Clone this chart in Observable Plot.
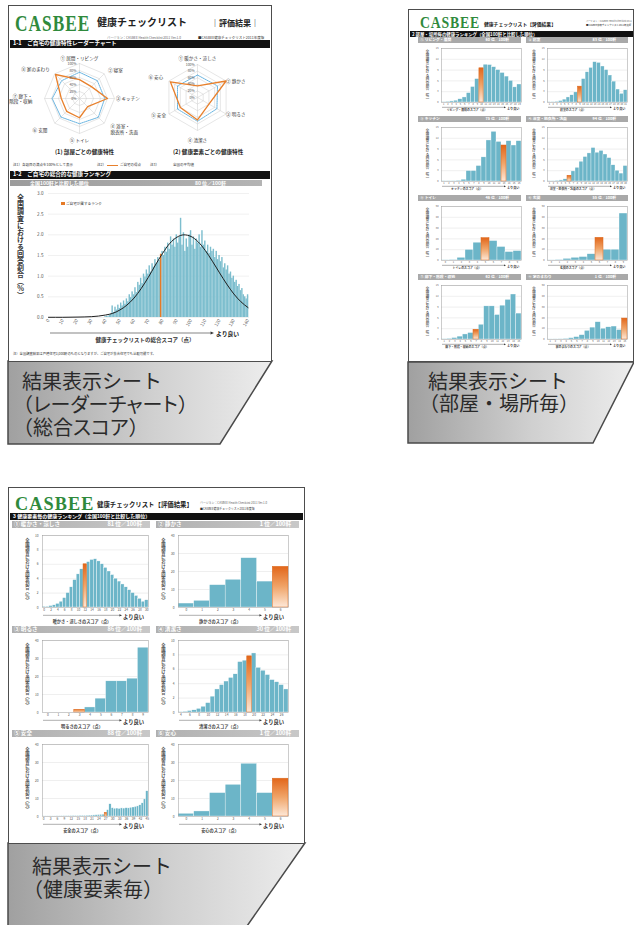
<!DOCTYPE html>
<html><head><meta charset="utf-8">
<script src="https://cdn.jsdelivr.net/npm/d3@7"></script>
<script src="https://cdn.jsdelivr.net/npm/@observablehq/plot@0.6"></script>
<style>
html,body{margin:0;padding:0;background:#fff;}
body{width:634px;height:925px;position:relative;overflow:hidden;font-family:"Noto Sans CJK JP","Noto Sans",sans-serif;color:#333;}
.t{position:absolute;white-space:nowrap;line-height:1;}
.v{position:absolute;white-space:nowrap;line-height:1;writing-mode:vertical-rl;text-orientation:upright;}
.b{position:absolute;}
.sheet{position:absolute;background:#fff;border:1.5px solid #4d4d4d;box-sizing:border-box;}
.pl{position:absolute;}
.pl svg{display:block;max-width:none !important;}
.p{font-feature-settings:"palt";}
.cap{position:absolute;white-space:nowrap;font-size:20px;color:#2a2a2a;font-family:"Liberation Sans","Noto Sans CJK JP",sans-serif;}
.cap .f{display:inline-block;margin-left:9px;}
</style></head><body>
<svg width="634" height="925" style="position:absolute;left:0;top:0">
<defs>
<linearGradient id="og" x1="0" y1="0" x2="0" y2="1"><stop offset="0" stop-color="#e2661a"/><stop offset="0.5" stop-color="#f0a468"/><stop offset="1" stop-color="#fde8d8"/></linearGradient>
<linearGradient id="capg" x1="0" y1="0" x2="1" y2="0"><stop offset="0" stop-color="#a0a0a0"/><stop offset="0.55" stop-color="#d0d0d0"/><stop offset="1" stop-color="#ededed"/></linearGradient>
</defs>
<polygon points="8,361 272,361 220,444 8,444" fill="url(#capg)" stroke="#4a4a4a" stroke-width="1.5"/>
<polygon points="408,362 634,362 593,443 408,443" fill="url(#capg)" stroke="#4a4a4a" stroke-width="1.5"/>
<polygon points="8,843 305,843 247,926 8,926" fill="url(#capg)" stroke="#4a4a4a" stroke-width="1.5"/>
</svg>
<div class="cap" style="left:13px;top:370.5px;line-height:23px;"><span class="f">結果表示シート</span><br>（<span class="p">レーダーチャート</span>）<br>（総合<span class="p">スコア</span>）</div>
<div class="cap" style="left:419px;top:370.8px;line-height:22.6px;"><span class="f">結果表示シート</span><br>（部屋・場所毎）</div>
<div class="cap" style="left:23px;top:855.5px;line-height:23px;"><span class="f">結果表示シート</span><br>（健康要素毎）</div>
<script>
// ================= DATA =================
// Radar 1: rooms
const roomAxes = ["① 居間・リビング","② 寝室","③ キッチン","④ 浴室・\n脱衣所・洗面","⑤ トイレ","⑥ 玄関","⑦ 廊下・\n階段・収納","⑧ 家のまわり"];
const roomMine = [54, 48, 80, 33, 55, 52, 52, 97];
const roomAvg  = [75, 72, 72, 76, 72, 75, 78, 72];
// Radar 2: health elements
const elemAxes = ["① 暖かさ・涼しさ","② 静かさ","③ 明るさ","④ 清潔さ","⑤ 安全","⑥ 安心"];
const elemMine = [35, 100, 40, 68, 60, 95];
const elemAvg  = [68, 70, 68, 72, 70, 70];
const radarLevels = [20, 40, 60, 80, 100];
const radarPctLabels = [0, 20, 40, 60, 80, 100];

// Total score histogram (score 40..140)
const totalStart = 40;
const totalValues = [
 0.02,0.03,0.02,0.05,0.08, 0.28,0.12,0.25,0.18,0.30,
 0.22,0.35,0.28,0.40,0.32, 0.45,0.38,0.55,0.48,0.62,
 0.55,0.72,0.60,0.85,0.78, 0.95,0.82,1.05,0.98,1.15,
 1.05,1.25,1.10,1.30,1.22, 1.40,1.30,1.45,1.38,1.53,
 1.60,1.50,1.70,1.58,1.80, 1.65,1.95,1.75,1.90,1.70,
 2.00,1.80,1.95,2.40,1.75, 2.05,1.60,1.90,1.70,2.00,
 2.10,1.75,1.95,1.65,1.90, 1.80,2.00,1.70,2.10,1.75,
 1.85,1.60,1.75,1.55,1.70, 1.60,1.65,1.45,1.60,1.40,
 1.50,1.35,1.45,1.20,1.30, 1.15,1.25,1.05,1.10,0.95,
 1.00,0.85,0.90,0.75,0.80, 0.65,0.70,0.55,0.50,0.45,
 0.55];
const totalOrangeScore = 79;
const curveScores = [0,10,20,30,40,45,50,55,60,65,70,75,80,85,90,95,100,105,110,115,120,125,130,135,140];
const curveValues = [0.005,0.005,0.01,0.02,0.06,0.10,0.18,0.30,0.47,0.70,0.97,1.27,1.55,1.79,1.94,2.00,1.96,1.83,1.62,1.36,1.08,0.81,0.57,0.38,0.24];
const totalXTicks = [0,10,20,30,40,50,60,70,80,90,100,110,120,130,140];
const totalYTicks = [0,0.5,1.0,1.5,2.0,2.5,3.0];
const totalRank = 80;

// Sheet 2: rooms
const roomNames = ["① リビング・居間","② 寝室","③ キッチン","④ 浴室・脱衣所・洗面","⑤ トイレ","⑥ 玄関","⑦ 廊下・階段・収納","⑧ 家のまわり"];
const roomRanks = [60, 83, 75, 94, 46, 55, 62, 1];
const roomXLabels = ["リビング・居間のスコア（点）","寝室のスコア（点）","キッチンのスコア（点）","浴室・脱衣所・洗面のスコア（点）","トイレのスコア（点）","玄関のスコア（点）","廊下・階段・収納のスコア（点）","家のまわりのスコア（点）"];
const livingValues   = [0.1,0.2,0.3,0.5,0.9,1.4,2.6,4.3,6.5,9.5,10.5,10.4,9.8,9.0,8.2,7.2,6.0,4.2,5.0];
const bedValues      = [0.1,0.1,0.2,0.4,0.8,1.4,2.0,2.8,4.4,6.5,8.4,9.6,11.2,11.0,10.0,9.0,7.5,5.8,3.6,2.4,3.4];
const kitchenValues  = [0.1,0.1,0.1,0.2,0.5,2.9,2.9,4.3,6.7,11.4,13.8,11.0,10.0,11.2,10.0,11.2];
const bathValues     = [0.1,0.1,0.2,0.3,0.6,1.6,2.8,3.8,5.5,6.8,7.8,9.3,8.0,8.5,7.5,6.5,4.5,3.0,2.2,4.3];
const toiletValues   = [0.3,0.5,2.5,9.8,16.5,20.7,18.0,12.5,7.8,8.7];
const entranceValues = [0.2,0.5,1.5,2.5,3.2,5.8,21.0,10.0,10.0,43.5];
const corridorValues = [0.1,0.2,0.4,0.8,1.4,1.8,2.7,4.1,9.2,9.2,6.8,9.4,11.0,12.5,7.2];
const outsideValues  = [0.1,0.2,0.3,0.6,1.2,2.2,4.0,8.0,11.0,16.0,10.0,11.3,12.0,8.7,19.4];
const roomValues = [livingValues,bedValues,kitchenValues,bathValues,toiletValues,entranceValues,corridorValues,outsideValues];
const roomOrange = [9, 8, 12, 5, 5, 6, 6, 14];
const roomYMax  = [15,15,15,15,50,50,15,50];
const roomYStep = [3,3,3,3,10,10,3,10];
const roomStart = [1,1,1,1,0,0,1,1];

// Sheet 3: health elements
const elemNames = ["① 暖かさ・涼しさ","② 静かさ","③ 明るさ","④ 清潔さ","⑤ 安全","⑥ 安心"];
const elemRanks = [81, 1, 86, 30, 88, 1];
const elemXLabels = ["暖かさ・涼しさのスコア（点）","静かさのスコア（点）","明るさのスコア（点）","清潔さのスコア（点）","安全のスコア（点）","安心のスコア（点）"];
const warmValues   = [0.1,0.1,0.2,0.3,0.5,0.8,1.3,2.0,2.8,3.8,4.6,5.3,6.0,6.3,6.6,6.7,6.4,6.0,5.5,5.0,4.5,4.0,3.6,3.2,2.8,2.4,2.0,1.6,1.2,0.8,1.0];
const quietValues  = [2.2,3.7,12.4,15.4,27.4,14.4,22.6];
const brightValues = [0,0,0,1.5,2.8,7.7,17.3,17.3,18.8,36.0];
const cleanValues  = [0.05,0.1,0.2,0.3,0.5,0.8,1.3,2.2,3.2,3.8,4.3,4.8,5.3,7.0,7.2,7.8,8.2,6.2,5.8,5.2,4.5,4.2,3.8,3.2];
const safeValues   = [0.1,0.1,0.1,0.1,0.1,0.1,0.15,0.15,0.2,0.2,0.2,0.25,0.25,0.3,0.3,0.3,0.35,0.4,0.4,0.45,0.5,0.55,0.6,0.7,0.8,0.9,1.0,2.0,3.5,6.8,4.6,4.3,4.4,4.2,4.5,4.4,4.6,4.5,4.8,5.0,5.3,5.6,6.2,7.3,9.5,14.0];
const reliefValues = [1.5,2.8,13.0,17.6,29.3,13.0,21.0];
const elemValues = [warmValues,quietValues,brightValues,cleanValues,safeValues,reliefValues];
const elemOrange = [12, 6, 3, 15, 27, 6];
const elemYMax  = [10,40,40,10,40,40];
const elemYStep = [2,10,10,2,10,10];
const elemStart = [0,0,0,4,0,0];
const elemTickStep = [2,1,1,2,3,1];

const yLabelText = "全国調査における回答割合（%）";

// ================= HELPERS =================
const FONT = '"Noto Sans CJK JP", "Noto Sans", sans-serif';
function T(x, y, s, fs, o = {}, ax = "l") {
  const d = document.createElement("div");
  d.className = "t"; d.textContent = s;
  d.style.left = x + "px"; d.style.top = (y - fs / 2) + "px"; d.style.fontSize = fs + "px";
  if (ax === "c") d.style.transform = "translateX(-50%)";
  if (ax === "r") d.style.transform = "translateX(-100%)";
  Object.assign(d.style, o);
  document.body.appendChild(d); return d;
}
function V(x, y, s, fs, o = {}) {
  const d = document.createElement("div");
  d.className = "v"; d.textContent = s;
  d.style.left = x + "px"; d.style.top = y + "px"; d.style.fontSize = fs + "px";
  Object.assign(d.style, o);
  document.body.appendChild(d); return d;
}
function B(x, y, w, h, bg, o = {}) {
  const d = document.createElement("div");
  d.className = "b";
  Object.assign(d.style, {left: x + "px", top: y + "px", width: w + "px", height: h + "px", background: bg}, o);
  document.body.appendChild(d); return d;
}
function place(node, x, y) {
  const d = document.createElement("div");
  d.className = "pl"; d.style.left = x + "px"; d.style.top = y + "px";
  d.appendChild(node); document.body.appendChild(d); return d;
}
function sheet(x, y, w, h) {
  const d = document.createElement("div");
  d.className = "sheet";
  Object.assign(d.style, {left: x + "px", top: y + "px", width: w + "px", height: h + "px"});
  document.body.appendChild(d);
}
function logo(x, yBase, fs, sx) {
  const d = T(x, 0, "CASBEE", fs, {fontFamily: '"Liberation Serif", serif', fontWeight: "bold", color: "#2f8a3c", transformOrigin: "0 0", transform: `scaleX(${sx})`, letterSpacing: "0.06em"});
  d.style.top = (yBase - 0.837 * fs) + "px";
  return d;
}
const arrows = [];
function arrow(x1, x2, y, hs, sw) { arrows.push({x1, x2, y, hs, sw}); }
function drawArrows() {
  const ns = "http://www.w3.org/2000/svg";
  const svg = document.createElementNS(ns, "svg");
  svg.setAttribute("width", 634); svg.setAttribute("height", 925);
  svg.style.position = "absolute"; svg.style.left = "0"; svg.style.top = "0"; svg.style.pointerEvents = "none";
  for (const a of arrows) {
    const l = document.createElementNS(ns, "line");
    l.setAttribute("x1", a.x1); l.setAttribute("x2", a.x2 - a.hs); l.setAttribute("y1", a.y); l.setAttribute("y2", a.y);
    l.setAttribute("stroke", "#333"); l.setAttribute("stroke-width", a.sw);
    svg.appendChild(l);
    const p = document.createElementNS(ns, "polygon");
    p.setAttribute("points", `${a.x2 - a.hs},${a.y - a.hs * 0.45} ${a.x2},${a.y} ${a.x2 - a.hs},${a.y + a.hs * 0.45}`);
    p.setAttribute("fill", "#333");
    svg.appendChild(p);
  }
  document.body.appendChild(svg);
}

// ================= RADAR =================
function radarChart(axes, mine, avg, R, w, h, labR) {
  const n = axes.length;
  const P = (i, r) => { const a = 2 * Math.PI * i / n; return {x: r * Math.sin(a), y: r * Math.cos(a)}; };
  const ring = radarLevels.flatMap(l => d3.range(n + 1).map(i => ({...P(i % n, l / 100), l})));
  const spokes = axes.map((_, i) => ({x1: 0, y1: 0, x2: P(i, 1).x, y2: P(i, 1).y}));
  const poly = vals => d3.range(n + 1).map(i => P(i % n, vals[i % n] / 100));
  const labs = axes.map((t, i) => {
    const p = P(i, labR[i]);
    const ta = Math.abs(p.x) < 0.05 ? "middle" : p.x > 0 ? "start" : "end";
    const la = Math.abs(p.x) < 0.05 ? (p.y > 0 ? "bottom" : "top") : "middle";
    return {...p, t, k: ta + "|" + la};
  });
  const groups = d3.groups(labs, d => d.k);
  const pct = radarPctLabels.map(v => ({x: -0.09, y: v / 100, t: v + "%"}));
  return Plot.plot({
    width: w, height: h, margin: 0,
    x: {domain: [-w / 2 / R, w / 2 / R], axis: null},
    y: {domain: [-h / 2 / R, h / 2 / R], axis: null},
    style: {background: "transparent", fontFamily: FONT, overflow: "visible"},
    marks: [
      Plot.line(ring, {x: "x", y: "y", z: "l", stroke: "#cdcdcd", strokeWidth: 0.5}),
      Plot.link(spokes, {x1: "x1", y1: "y1", x2: "x2", y2: "y2", stroke: "#cdcdcd", strokeWidth: 0.5}),
      Plot.line(poly(avg), {x: "x", y: "y", stroke: "#58acdc", strokeWidth: 0.9, strokeDasharray: "1.3,0.9"}),
      Plot.line(poly(mine), {x: "x", y: "y", stroke: "#e8802c", strokeWidth: 1.3}),
      Plot.text(pct, {x: "x", y: "y", text: "t", textAnchor: "end", fontSize: 3.4, fill: "#555"}),
      ...groups.map(([k, g]) => {
        const [ta, la] = k.split("|");
        return Plot.text(g, {x: "x", y: "y", text: "t", textAnchor: ta, lineAnchor: la, fontSize: 4.6, fill: "#333", lineHeight: 1.2});
      })
    ]
  });
}

// ================= SMALL HISTOGRAM CELL =================
function cell(c) {
  B(c.hx, c.hy, c.hw, c.hh, c.hbg);
  T(c.hx + 2, c.hy + c.hh / 2, c.name, c.fsH, {color: "#fff", fontWeight: "bold"});
  T(c.hx + c.hw - c.rankPad, c.hy + c.hh / 2, c.rank + " 位／100軒", c.fsH, {color: "#fff", fontWeight: "bold"}, "r");
  const n = c.values.length;
  const data = c.values.map((v, i) => ({s: c.start + i, v}));
  const teal = data.filter((d, i) => i !== c.orange);
  const org = data.filter((d, i) => i === c.orange);
  const ml = 14, mr = 1, mt = 2, mb = 8;
  const w = c.px2 - c.px1 + ml + mr, h = c.py2 - c.py1 + mt + mb;
  const ticks = d3.range(c.start, c.start + n, c.tickStep);
  const chart = Plot.plot({
    width: w, height: h, marginLeft: ml, marginRight: mr, marginTop: mt, marginBottom: mb,
    style: {background: "transparent", fontFamily: FONT, fontSize: c.fsT + "px", color: "#555", overflow: "visible"},
    x: {domain: [c.start - 0.5, c.start + n - 0.5], ticks, tickFormat: d => String(d), tickSize: 0, tickPadding: c.tpx, label: null},
    y: {domain: [0, c.yMax], ticks: d3.range(0, c.yMax + 0.001, c.yStep), tickSize: 0, tickPadding: c.tpy, label: null},
    marks: [
      Plot.ruleY(d3.range(c.yStep, c.yMax + 0.001, c.yStep), {stroke: "#d6d6d6", strokeWidth: 0.4}),
      Plot.rectY(teal, {x1: d => d.s - 0.5, x2: d => d.s + 0.5, y: "v", fill: "#6cb5c8", stroke: "#ffffff", strokeWidth: 0.35}),
      Plot.rectY(org, {x1: d => d.s - 0.5, x2: d => d.s + 0.5, y: "v", fill: "url(#og)", stroke: "#dc6a1e", strokeWidth: 0.5}),
      Plot.frame({stroke: "#9a9a9a", strokeWidth: 0.5})
    ]
  });
  place(chart, c.px1 - ml, c.py1 - mt);
  V(c.ylx, c.py1 + c.yly, yLabelText, c.fsY, {color: "#555", fontWeight: "bold"});
  arrow(c.px1 + 1, c.px2 - c.betterW - 1, c.py2 + c.ay, c.ahs, 0.4);
  T(c.px2 - c.betterW, c.py2 + c.by, "より良い", c.fsB, {fontWeight: "bold", color: "#333"});
  T((c.px1 + c.px2) / 2 - c.xlShift, c.py2 + c.xly, c.xlab, c.fsX, {fontWeight: "bold", color: "#444"}, "c");
}

// ================= SHEET 1 =================
sheet(8, 5, 264, 357);
logo(15, 31, 24, 0.72);
T(97, 22, "健康チェックリスト", 10, {fontWeight: "bold", color: "#222"});
T(211, 22.5, "｜評価結果｜", 8, {fontWeight: "bold", color: "#222"});
T(107, 37.5, "バージョン：CASBEE Health Checklist 2011 Ver.1.0", 3.2, {color: "#666"});
T(198, 37.5, "■CASBEE健康チェックリスト2011年度版", 3.5, {color: "#333"});
B(10, 40, 260, 7.5, "#111");
T(13, 43.8, "1-1　ご自宅の健康特性レーダーチャート", 5.6, {color: "#fff", fontWeight: "bold"});
place(radarChart(roomAxes, roomMine, roomAvg, 35, 140, 104, [1.1, 1.15, 1.04, 1.25, 1.13, 1.3, 1.35, 1.2]), 79 - 70, 98 - 52);
place(radarChart(elemAxes, elemMine, elemAvg, 33, 120, 104, [1.14, 1.0, 1.0, 1.23, 1.1, 1.2]), 197 - 60, 97 - 52);
T(55, 153, "(1) 部屋ごとの健康特性", 5.6, {fontWeight: "bold", color: "#222"});
T(173, 153, "(2) 健康要素ごとの健康特性", 5.6, {fontWeight: "bold", color: "#222"});
T(13, 165, "注1）各項目の満点を100%として表示", 3.5, {color: "#333"});
T(97, 165, "注2）", 3.5, {color: "#333"});
B(107, 164.5, 11, 1.1, "#e8802c");
T(120, 165, "ご自宅の得点", 3.5, {color: "#333"});
T(150, 165, "注3）", 3.5, {color: "#333"});
B(160, 164.6, 11, 0.9, "repeating-linear-gradient(90deg,#58acdc 0 1.3px,transparent 1.3px 2.2px)");
T(173, 165, "全国の平均値", 3.5, {color: "#333"});
B(10, 171, 260, 7.5, "#111");
T(13, 174.8, "1-2　ご自宅の総合的な健康ランキング", 5.6, {color: "#fff", fontWeight: "bold"});
B(10, 179.5, 252, 6.5, "linear-gradient(90deg,#9c9c9c,#b4b4b4)");
T(30, 182.8, "全国100軒と比較した順位", 5, {color: "#fff", fontWeight: "bold"});
T(195, 182.8, totalRank + " 位／100軒", 5, {color: "#fff", fontWeight: "bold"});

// main histogram
{
  const data = totalValues.map((v, i) => ({s: totalStart + i, v}));
  const teal = data.filter(d => d.s !== totalOrangeScore);
  const org = data.filter(d => d.s === totalOrangeScore);
  const curve = curveScores.map((s, i) => ({s, v: curveValues[i]}));
  const chart = Plot.plot({
    width: 262, height: 150, marginLeft: 40, marginRight: 21, marginTop: 5, marginBottom: 21,
    style: {background: "transparent", fontFamily: FONT, fontSize: "4.6px", color: "#555", overflow: "visible"},
    x: {domain: [0, 141], ticks: totalXTicks, tickRotate: -60, tickSize: 0, tickPadding: 2, label: null, tickFormat: d => String(d)},
    y: {domain: [0, 3.0], ticks: totalYTicks, tickFormat: d => d.toFixed(1), tickSize: 0, tickPadding: 5, label: null},
    marks: [
      Plot.ruleY(totalYTicks, {stroke: "#e2e2e2", strokeWidth: 0.5}),
      Plot.rectY(teal, {x1: d => d.s - 0.5, x2: d => d.s + 0.5, y: "v", fill: "#7dbece"}),
      Plot.rectY(org, {x1: d => d.s - 0.5, x2: d => d.s + 0.5, y: "v", fill: "#e57a26"}),
      Plot.line(curve, {x: "s", y: "v", curve: "monotone-x", stroke: "#1e1e1e", strokeWidth: 1})
    ]
  });
  place(chart, 8, 188);
}
B(61, 201.5, 3.5, 3.5, "#e57a26");
T(66, 203.3, "ご自宅が属するランク", 3.6, {color: "#333"});
V(16.5, 194, yLabelText, 7, {fontWeight: "bold", color: "#333"});
arrow(50, 214, 333, 3.5, 0.6);
T(216, 334, "より良い", 5.8, {fontWeight: "bold", color: "#222"});
T(145, 340.5, "健康チェックリストの総合スコア（点）", 5.5, {fontWeight: "bold", color: "#333"}, "c");
T(13, 354, "注）全国調査結果は戸建住宅3,000軒のものとなりますが、ご自宅が集合住宅でも比較可能です。", 3.3, {color: "#333"});

// ================= SHEET 2 =================
sheet(408, 9, 226, 353);
logo(420, 28, 16, 0.86);
T(484, 24, "健康チェックリスト【評価結果】", 4.8, {fontWeight: "bold", color: "#222"});
T(586, 21.5, "バージョン：CASBEE Health Checklist 2011", 2.3, {color: "#666"});
T(586, 25.5, "■CASBEE健康チェックリスト2011年度版", 2.4, {color: "#333"});
B(410, 31, 223, 5.5, "#111");
T(412, 33.8, "2 部屋・場所毎の健康ランキング（全国100軒と比較した順位）", 4.4, {color: "#fff", fontWeight: "bold"});
{
  const hxs = [418, 526], hws = [103, 102], px1s = [441, 547], px2s = [521, 627], ylxs = [425.5, 532];
  const hys = [37, 116, 195, 274];
  roomNames.forEach((name, k) => {
    const col = k % 2, row = Math.floor(k / 2);
    const hy = hys[row];
    cell({
      hx: hxs[col], hy, hw: hws[col], hh: 5.5, hbg: "#a9a9a9", fsH: 3.8, rankPad: 12,
      name, rank: roomRanks[k],
      px1: px1s[col], px2: px2s[col], py1: hy + 11, py2: hy + 65,
      values: roomValues[k], start: roomStart[k], orange: roomOrange[k],
      yMax: roomYMax[k], yStep: roomYStep[k], tickStep: 1,
      fsT: 2.4, tpx: 1, tpy: 3,
      ylx: ylxs[col], yly: 1.5, fsY: 3.4,
      ay: 5.3, by: 6.6, ahs: 2, betterW: 14, fsB: 3.1,
      xlab: roomXLabels[k], xlShift: 14, xly: 8.8, fsX: 2.9
    });
  });
}

// ================= SHEET 3 =================
sheet(8, 487, 297, 357);
logo(15, 509.8, 19, 0.96);
T(97, 505.5, "健康チェックリスト【評価結果】", 6.4, {fontWeight: "bold", color: "#222"});
T(200, 503, "バージョン：CASBEE Health Checklist 2011 Ver.1.0", 2.9, {color: "#666"});
T(200, 509, "■CASBEE健康チェックリスト2011年度版", 2.9, {color: "#333"});
B(10, 513, 293, 6.5, "#111");
T(13, 516.6, "3 健康要素毎の健康ランキング（全国100軒と比較した順位）", 5, {color: "#fff", fontWeight: "bold", fontFamily: '"Liberation Sans", "Noto Sans CJK JP", sans-serif'});
{
  const hxs = [12, 156], hws = [138, 143], px1s = [42, 178], px2s = [148, 288], ylxs = [25, 161];
  const hys = [521, 626, 730];
  elemNames.forEach((name, k) => {
    const col = k % 2, row = Math.floor(k / 2);
    const hy = hys[row];
    cell({
      hx: hxs[col], hy, hw: hws[col], hh: 7, hbg: "linear-gradient(90deg,#b0b0b0,#c8c8c8)", fsH: 5.6, rankPad: 8,
      name, rank: elemRanks[k],
      px1: px1s[col], px2: px2s[col], py1: hy + 14, py2: hy + 86,
      values: elemValues[k], start: elemStart[k], orange: elemOrange[k],
      yMax: elemYMax[k], yStep: elemYStep[k], tickStep: elemTickStep[k],
      fsT: 3.2, tpx: 1.5, tpy: 4,
      ylx: ylxs[col], yly: 3, fsY: 4.3,
      ay: 8.3, by: 10.2, ahs: 2.6, betterW: 25, fsB: 5.3,
      xlab: elemXLabels[k], xlShift: 13, xly: 13.6, fsX: 4.2
    });
  });
}

drawArrows();
</script>
</body></html>
